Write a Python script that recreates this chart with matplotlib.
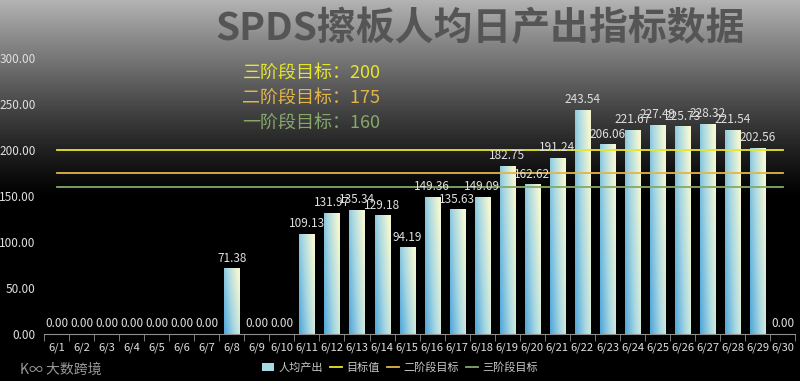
import matplotlib
matplotlib.use("Agg")
import matplotlib.pyplot as plt
import numpy as np
from matplotlib.colors import LinearSegmentedColormap
from matplotlib.lines import Line2D
from matplotlib.patches import Patch

plt.rcParams['font.family'] = ['Noto Sans CJK SC', 'DejaVu Sans']

days = ['6/%d' % d for d in range(1, 31)]
output = [0.00, 0.00, 0.00, 0.00, 0.00, 0.00, 0.00, 71.38, 0.00, 0.00,
          109.13, 131.97, 135.34, 129.18, 94.19, 149.36, 135.63, 149.09, 182.75, 162.62,
          191.24, 243.54, 206.06, 221.67, 227.49, 225.73, 228.32, 221.54, 202.56, 0.00]
target = 200
stage2 = 175
stage1 = 160

fig = plt.figure(figsize=(8, 3.81), dpi=100)

# background gradient: gray on top fading to black
bg = fig.add_axes([0, 0, 1, 1])
bg.set_axis_off()
rows = np.linspace(0, 1, 381)
shade = np.clip(1 - rows / 0.52, 0, 1) ** 1.2 * 0.7
img = np.repeat(shade[:, None], 2, axis=1)
bg.imshow(img, cmap='gray', vmin=0, vmax=1, aspect='auto', extent=[0, 1, 0, 1])
bg.set_xlim(0, 1)
bg.set_ylim(0, 1)

ax = fig.add_axes([0.055, 0.123, 0.939, 0.725])
ax.patch.set_alpha(0)
x = np.arange(len(days))

bars = ax.bar(x, output, width=0.6, color='none', edgecolor='none')
cmap = LinearSegmentedColormap.from_list('bar', ['#4fa6da', '#a9d8e2', '#f4f7d2'])
gx, gy = np.meshgrid(np.linspace(0, 1, 40), np.linspace(0, 1, 80))
grad = np.clip(0.75 * gx + 0.35 * gy, 0, 1)
for b in bars:
    h = b.get_height()
    if h <= 0:
        continue
    x0 = b.get_x()
    im = ax.imshow(grad, cmap=cmap, origin='lower', aspect='auto',
                   extent=[x0, x0 + b.get_width(), 0, h], zorder=2)
    im.set_clip_path(b)

ax.plot(x, [target] * len(x), color='#e6e62a', lw=1.3, zorder=3)
ax.plot(x, [stage2] * len(x), color='#e2b54a', lw=1.3, zorder=3)
ax.plot(x, [stage1] * len(x), color='#86a86a', lw=1.3, zorder=3)

for xi, v in zip(x, output):
    ax.text(xi, v + 4, '%.2f' % v, ha='center', va='bottom', fontsize=8.5,
            color='#e0e0e0', zorder=4)

ax.set_xlim(-0.5, len(days) - 0.5)
ax.set_ylim(0, 300)
ax.set_yticks(np.arange(0, 301, 50))
ax.set_yticklabels(['%.2f' % t for t in np.arange(0, 301, 50)])
ax.set_xticks(x)
ax.set_xticklabels(days)
ax.set_xticks(np.arange(-0.5, len(days), 1), minor=True)
ax.tick_params(axis='x', which='major', length=0, colors='#e0e0e0', labelsize=8, pad=6)
ax.tick_params(axis='x', which='minor', length=5, color='#909090')
ax.tick_params(axis='y', length=0, colors='#e0e0e0', labelsize=8.5, pad=6)
for s in ['top', 'right', 'left']:
    ax.spines[s].set_visible(False)
ax.spines['bottom'].set_color('#909090')

fig.text(0.6, 0.925, 'SPDS擦板人均日产出指标数据', ha='center', va='center',
         fontsize=28, fontweight='bold', color='#555555')
fig.text(0.303, 0.81, '三阶段目标：200', fontsize=13, color='#e6e62a', va='center')
fig.text(0.303, 0.743, '二阶段目标：175', fontsize=13, color='#e2b54a', va='center')
fig.text(0.303, 0.677, '一阶段目标：160', fontsize=13, color='#86a86a', va='center')

fig.text(0.025, 0.03, 'K∞ 大数跨境', fontsize=10, color='#9a9a9a', va='center')

handles = [Patch(facecolor='#a9d8e2', edgecolor='none'),
           Line2D([], [], color='#e6e62a', lw=1.3),
           Line2D([], [], color='#e2b54a', lw=1.3),
           Line2D([], [], color='#86a86a', lw=1.3)]
leg = fig.legend(handles, ['人均产出', '目标值', '二阶段目标', '三阶段目标'],
                 loc='center', bbox_to_anchor=(0.5, 0.035), ncol=4, frameon=False,
                 fontsize=8, handlelength=1.1, handletextpad=0.4, columnspacing=0.6)
for t in leg.get_texts():
    t.set_color('#c8c8c8')

fig.savefig('out.png', dpi=100)
